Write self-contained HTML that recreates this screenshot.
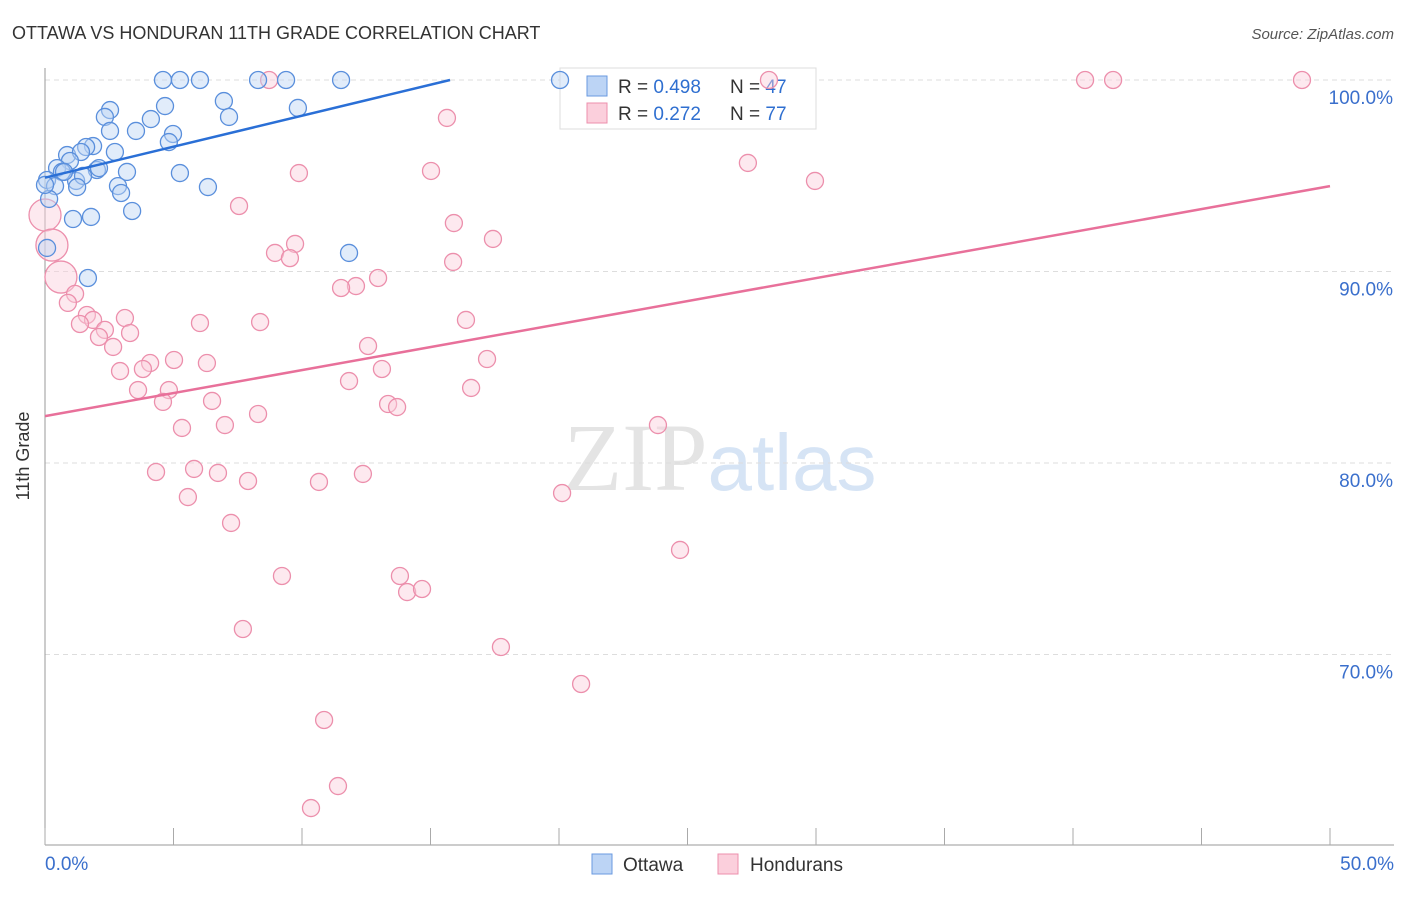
<!DOCTYPE html>
<html><head><meta charset="utf-8"><style>
body{margin:0;background:#fff;font-family:"Liberation Sans",sans-serif}
</style></head><body>
<svg id="c" width="1406" height="892" xmlns="http://www.w3.org/2000/svg">
<text x="12" y="39" font-size="18" fill="#333">OTTAWA VS HONDURAN 11TH GRADE CORRELATION CHART</text>
<text x="1394" y="39" font-size="15" fill="#555" font-style="italic" text-anchor="end">Source: ZipAtlas.com</text>
<text x="720" y="490" font-size="96" fill="#e4e4e4" text-anchor="middle" font-family="Liberation Serif,serif">ZIP<tspan fill="#d6e4f5" font-family="Liberation Sans,sans-serif" font-size="80">atlas</tspan></text>
<g id="grid"></g><g id="axes"></g>
<g>
<rect x="560" y="68" width="256" height="61" fill="#fff" stroke="#ddd"/>
<rect x="587" y="76" width="20" height="20" fill="#bcd4f5" stroke="#6a9ae0"/>
<text x="618" y="93" font-size="19" fill="#333">R = <tspan fill="#2f6fd0">0.498</tspan><tspan x="730">N = </tspan><tspan fill="#2f6fd0">47</tspan></text>
<rect x="587" y="103" width="20" height="20" fill="#fbcfdc" stroke="#ec8fac"/>
<text x="618" y="120" font-size="19" fill="#333">R = <tspan fill="#2f6fd0"> 0.272</tspan><tspan x="730">N = </tspan><tspan fill="#2f6fd0">77</tspan></text>
</g>
<g id="pts"></g><g id="lines"></g>
<text x="29" y="456" font-size="18" fill="#333" text-anchor="middle" transform="rotate(-90 29 456)">11th Grade</text>
<text x="45" y="870" font-size="19" fill="#3a6fcc">0.0%</text>
<text x="1394" y="870" font-size="19" fill="#3a6fcc" text-anchor="end">50.0%</text>
<g>
<rect x="592" y="854" width="20" height="20" fill="#bcd4f5" stroke="#6a9ae0"/>
<text x="623" y="871" font-size="19" fill="#333">Ottawa</text>
<rect x="718" y="854" width="20" height="20" fill="#fbcfdc" stroke="#ec8fac"/>
<text x="750" y="871" font-size="19" fill="#333">Hondurans</text>
</g>
</svg>
<script>
const NS="http://www.w3.org/2000/svg";
const yTicks=[100,90,80,70];
const yTickLabels=["100.0%","90.0%","80.0%","70.0%"];
const xTicks=[0,5,10,15,20,25,30,35,40,45,50];
const bluePx=[[163,80],[180,80],[200,80],[258,80],[286,80],[341,80],[560,80],[110,110],[165,106],[224,101],[298,108],[105,117],[151,119],[229,117],[110,131],[136,131],[173,134],[169,142],[93,146],[86,147],[67,155],[81,152],[115,152],[70,161],[57,168],[62,172],[97,170],[127,172],[180,173],[47,180],[55,186],[76,181],[83,176],[77,187],[118,186],[121,193],[208,187],[49,199],[73,219],[91,217],[132,211],[47,248],[88,278],[349,253],[45,185],[64,172],[99,168]];
const pinkPx=[[269,80],[769,80],[1085,80],[1113,80],[1302,80],[447,118],[748,163],[815,181],[299,173],[431,171],[239,206],[454,223],[493,239],[275,253],[295,244],[290,258],[453,262],[378,278],[356,286],[341,288],[75,294],[68,303],[87,315],[93,320],[80,324],[125,318],[105,330],[99,337],[130,333],[113,347],[200,323],[260,322],[466,320],[368,346],[174,360],[150,363],[207,363],[120,371],[143,369],[487,359],[349,381],[382,369],[138,390],[169,390],[471,388],[163,402],[212,401],[388,404],[397,407],[258,414],[182,428],[225,425],[658,425],[156,472],[194,469],[218,473],[248,481],[319,482],[363,474],[188,497],[562,493],[231,523],[680,550],[282,576],[400,576],[407,592],[422,589],[243,629],[501,647],[581,684],[324,720],[338,786],[311,808]];
const pinkBigPx=[[61,277],[45,215],[52,245]];
const toData=p=>[+((p[0]-45)/25.7).toFixed(2),+(100-(p[1]-80)/19.15).toFixed(2)];
const ottawaX=bluePx.map(p=>toData(p)[0]), ottawaY=bluePx.map(p=>toData(p)[1]);
const hondX=pinkPx.map(p=>toData(p)[0]), hondY=pinkPx.map(p=>toData(p)[1]);
const hondBigX=pinkBigPx.map(p=>toData(p)[0]), hondBigY=pinkBigPx.map(p=>toData(p)[1]);
const blueLine=[[0,94.9],[15.76,100]];
const pinkLine=[[0,82.45],[50,94.46]];
const X=v=>45+v*25.7, Y=v=>80+(100-v)*19.15;
function mk(t,a,p){const e=document.createElementNS(NS,t);for(const k in a)e.setAttribute(k,a[k]);document.getElementById(p).appendChild(e);return e;}
yTicks.forEach((t,i)=>{
 const l=mk('line',{x1:45,x2:1394,y1:Y(t),y2:Y(t),stroke:'#ddd','stroke-dasharray':'5,4'},'grid');
 
 
 const tx=mk('text',{x:1393,y:Y(t)+24,'font-size':19,fill:'#3a6fcc','text-anchor':'end'},'grid');
 tx.textContent=yTickLabels[i];
 
 
});
const ya=mk('line',{x1:45,x2:45,y1:68,y2:845,stroke:'#999'},'axes');


const xa=mk('line',{x1:45,x2:1394,y1:845,y2:845,stroke:'#999'},'axes');


xTicks.forEach(t=>{
 const l=mk('line',{x1:X(t),x2:X(t),y1:828,y2:845,stroke:'#aaa'},'axes');
 
 
});
function pts(xs,ys,r,fill,stroke,name){
 xs.forEach((x,i)=>{
  const c=mk('circle',{cx:X(x),cy:Y(ys[i]),r:r,fill:fill,'fill-opacity':0.45,stroke:stroke,'stroke-width':1.3},'pts');
  
  
 });
}
pts(hondBigX,hondBigY,16,'#fbcfdc','#ec8fac','honduran-point');
pts(hondX,hondY,8.5,'#fbcfdc','#ec8fac','honduran-point');
pts(ottawaX,ottawaY,8.5,'#bcd4f5','#5a8fdc','ottawa-point');
const bl=mk('line',{x1:X(blueLine[0][0]),y1:Y(blueLine[0][1]),x2:X(blueLine[1][0]),y2:Y(blueLine[1][1]),stroke:'#2a6fd6','stroke-width':2.5},'lines');


const pl=mk('line',{x1:X(pinkLine[0][0]),y1:Y(pinkLine[0][1]),x2:X(pinkLine[1][0]),y2:Y(pinkLine[1][1]),stroke:'#e8709a','stroke-width':2.5},'lines');


</script>
</body></html>
